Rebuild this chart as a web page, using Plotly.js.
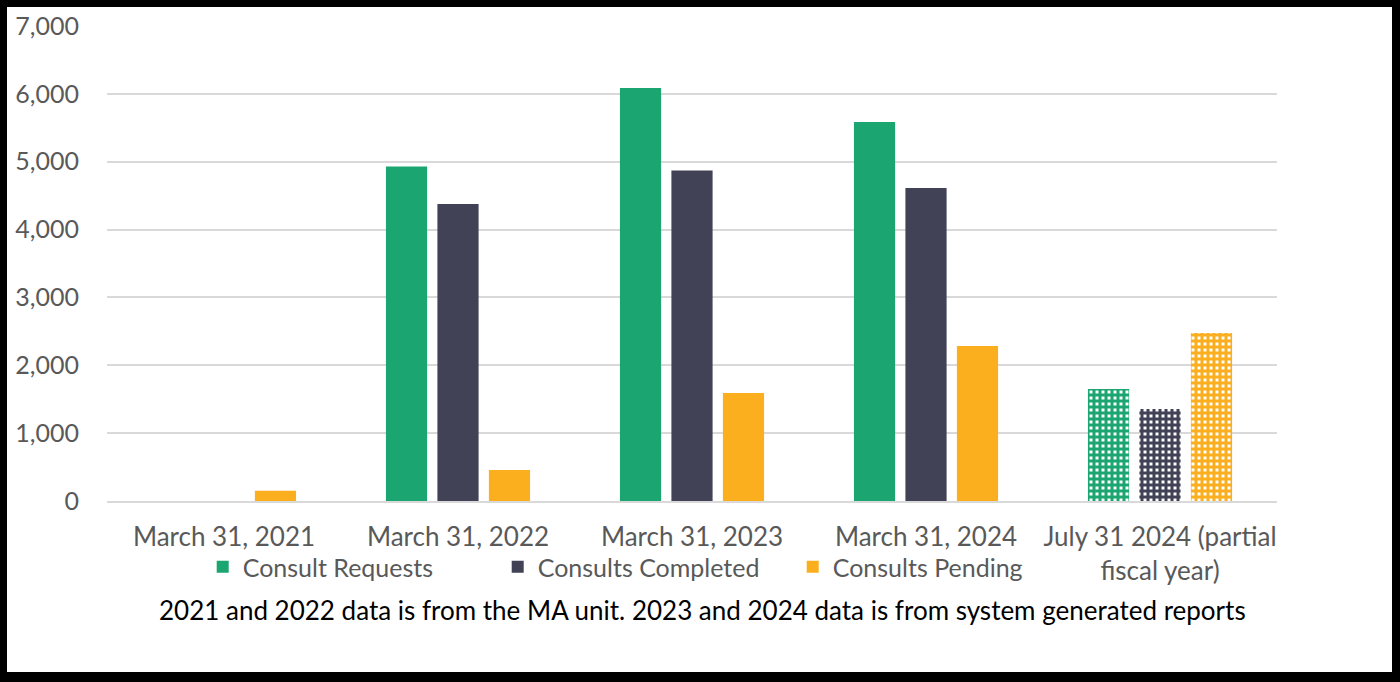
<!DOCTYPE html>
<html>
<head>
<meta charset="utf-8">
<script src="https://cdn.plot.ly/plotly-3.0.1.min.js"></script>
<style>
html,body{margin:0;padding:0;background:#fff;}
#wrap{position:relative;width:1400px;height:682px;}
#chart{position:absolute;left:0;top:0;width:1400px;height:682px;}
#frame{position:absolute;left:0;top:0;width:1400px;height:682px;box-sizing:border-box;border-style:solid;border-color:#000;border-width:7px 8px 10px 7px;pointer-events:none;}
</style>
</head>
<body>
<div id="wrap"><div id="chart"></div><div id="frame"></div></div>
<script>
const categories = ["March 31, 2021", "March 31, 2022", "March 31, 2023", "March 31, 2024", "July 31 2024 (partial<br>fiscal year)"];
const consultRequests = [null, 4930, 6088, 5585, 1650];
const consultsCompleted = [null, 4375, 4870, 4612, 1356];
const consultsPending = [150, 457, 1591, 2284, 2476];
const seriesNames = ["Consult Requests", "Consults Completed", "Consults Pending"];
const seriesColors = ["#1BA570", "#414256", "#FBAE1E"];
const patternShapes = ["", "", "", "", "+"];
const yTicks = [0, 1000, 2000, 3000, 4000, 5000, 6000, 7000];
const noteText = "2021 and 2022 data is from the MA unit. 2023 and 2024 data is from system generated reports";

const FONT = "Lato, 'Open Sans', sans-serif";
const valuesList = [consultRequests, consultsCompleted, consultsPending];
const traces = valuesList.map((vals, i) => ({
  type: "bar",
  name: seriesNames[i],
  x: categories,
  y: vals,
  marker: {
    color: seriesColors[i],
    line: {width: 0},
    pattern: {shape: patternShapes, fgcolor: seriesColors[i], bgcolor: "#ffffff", size: 6, solidity: 0.75, fillmode: "replace"}
  },
  hoverinfo: "x+y+name"
}));

const layout = {
  width: 1400, height: 682,
  paper_bgcolor: "#ffffff", plot_bgcolor: "#ffffff",
  margin: {l: 107, r: 123, t: 26, b: 181},
  barmode: "group", bargap: 0.34, bargroupgap: 0.2,
  font: {family: FONT, color: "#595959", size: 26},
  xaxis: {
    type: "category", showgrid: false, showline: true, linecolor: "#D9D9D9", linewidth: 2,
    ticks: "", tickfont: {family: FONT, size: 26, color: "#595959"}, ticklabelstandoff: 12,
    fixedrange: true
  },
  yaxis: {
    range: [0, 7000], tickvals: yTicks, tickformat: ",", showgrid: true, gridcolor: "#D9D9D9", gridwidth: 2,
    zeroline: false, showline: false, ticks: "", ticklabelstandoff: 27,
    tickfont: {family: FONT, size: 25, color: "#595959"}, fixedrange: true
  },
  legend: {
    orientation: "h", x: 0.46, xanchor: "center", y: -0.139, yanchor: "middle",
    font: {family: FONT, size: 25, color: "#595959"}, itemwidth: 30, bgcolor: "rgba(0,0,0,0)",
    traceorder: "normal", entrywidth: 250, entrywidthmode: "pixels"
  },
  annotations: [{
    text: noteText, xref: "paper", yref: "paper", x: 0.509, y: -0.229, xanchor: "center", yanchor: "middle",
    showarrow: false, font: {family: FONT, size: 26, color: "#000000"}
  }],
  showlegend: true
};

Plotly.newPlot("chart", traces, layout, {displayModeBar: false, staticPlot: true});
</script>
</body>
</html>
